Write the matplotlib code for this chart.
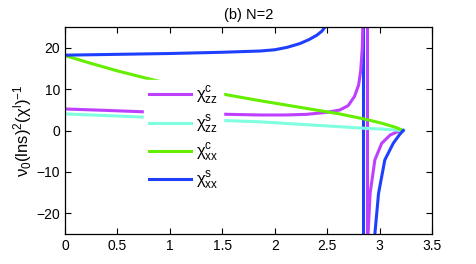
import matplotlib
matplotlib.use('Agg')
import matplotlib.pyplot as plt
import numpy as np

plt.rcParams['font.family'] = ['Liberation Sans', 'DejaVu Sans']
plt.rcParams['mathtext.fontset'] = 'custom'
plt.rcParams['mathtext.rm'] = 'Liberation Sans'
plt.rcParams['mathtext.it'] = 'Liberation Sans:italic'

# chi_zz^c (magenta)
x_zzc_a = [0, 0.4, 0.77, 1.2, 1.57, 1.86, 2.1, 2.3, 2.5, 2.62, 2.7, 2.76, 2.8, 2.82, 2.835, 2.845]
y_zzc_a = [5.2, 4.85, 4.5, 4.15, 3.9, 3.75, 3.75, 3.9, 4.4, 4.95, 6.0, 8.2, 11.0, 14.5, 20.0, 30.0]
x_zzc_v = [2.876, 2.876]
y_zzc_v = [40, -40]
x_zzc_b = [2.885, 2.89, 2.91, 2.955, 3.02, 3.10, 3.17, 3.225]
y_zzc_b = [-40, -25, -15.1, -7.1, -3.1, -1.1, -0.3, 0.0]

# chi_zz^s (cyan)
x_zzs = [0, 0.4, 0.77, 1.2, 1.57, 1.86, 2.24, 2.6, 2.85, 3.05, 3.225]
y_zzs = [4.0, 3.6, 3.2, 2.75, 2.35, 2.1, 1.5, 0.95, 0.55, 0.3, 0.0]

# chi_xx^c (green)
x_xxc = [0, 0.25, 0.5, 0.78, 1.0, 1.25, 1.57, 1.86, 2.24, 2.62, 2.85, 3.0, 3.15, 3.225]
y_xxc = [18.1, 16.2, 14.4, 12.6, 11.3, 10.0, 8.5, 7.2, 5.6, 4.0, 2.8, 1.9, 0.8, 0.0]

# chi_xx^s (blue)
x_xxs_a = [0, 0.5, 1.0, 1.5, 1.86, 2.0, 2.12, 2.24, 2.33, 2.4, 2.45, 2.48, 2.55]
y_xxs_a = [18.2, 18.4, 18.6, 18.9, 19.2, 19.5, 20.1, 21.0, 22.0, 23.0, 24.0, 25.0, 28.0]
x_xxs_v = [2.845, 2.845]
y_xxs_v = [40, -40]
x_xxs_b = [2.945, 2.955, 2.99, 3.05, 3.13, 3.19, 3.225]
y_xxs_b = [-40, -25, -15.2, -7.1, -3.1, -1.0, 0.0]

c_mag = '#bf3fff'
c_cyan = '#7fffdf'
c_green = '#66ee00'
c_blue = '#1f3fff'
lw = 2.2

fig = plt.figure(figsize=(4.77, 2.64), dpi=100)
ax = fig.add_axes([0.1363, 0.1136, 0.7694, 0.7841])

ax.plot(x_xxs_v, y_xxs_v, color=c_blue, lw=lw)
ax.plot(x_zzc_v, y_zzc_v, color=c_mag, lw=lw)
l1, = ax.plot(x_zzc_a, y_zzc_a, color=c_mag, lw=lw)
ax.plot(x_zzc_b, y_zzc_b, color=c_mag, lw=lw)
l2, = ax.plot(x_zzs, y_zzs, color=c_cyan, lw=lw)
l3, = ax.plot(x_xxc, y_xxc, color=c_green, lw=lw)
l4, = ax.plot(x_xxs_a, y_xxs_a, color=c_blue, lw=lw)
ax.plot(x_xxs_b, y_xxs_b, color=c_blue, lw=lw)

ax.set_xlim(0, 3.5)
ax.set_ylim(-25, 25)
ax.set_xticks(np.arange(0, 3.51, 0.5))
ax.set_xticklabels(['0', '0.5', '1', '1.5', '2', '2.5', '3', '3.5'])
ax.set_yticks([-20, -10, 0, 10, 20])
ax.set_yticklabels(['\u221220', '\u221210', '0', '10', '20'])
ax.tick_params(direction='in', top=True, right=True, length=4, width=0.8, labelsize=10)
for s in ax.spines.values():
    s.set_linewidth(0.9)

ax.set_title('(b) N=2', fontsize=10.5, pad=6)
ax.set_ylabel('\u03bd$_0$(lns)$^2$(\u03c7$^{\\rm l}$)$^{-1}$', fontsize=12, labelpad=2)

labels = ['\u03c7$^{\\rm c}_{\\rm zz}$', '\u03c7$^{\\rm s}_{\\rm zz}$',
          '\u03c7$^{\\rm c}_{\\rm xx}$', '\u03c7$^{\\rm s}_{\\rm xx}$']
leg = ax.legend([l1, l2, l3, l4], labels, loc='upper left',
                bbox_to_anchor=(0.215, 0.745), frameon=True, fontsize=12,
                handlelength=2.5, handletextpad=0.3, labelspacing=0.35,
                borderpad=0.3, borderaxespad=0, fancybox=False)
leg.get_frame().set_edgecolor('white')
leg.get_frame().set_facecolor('white')
leg.get_frame().set_alpha(1)

fig.savefig('out.png', dpi=100)
